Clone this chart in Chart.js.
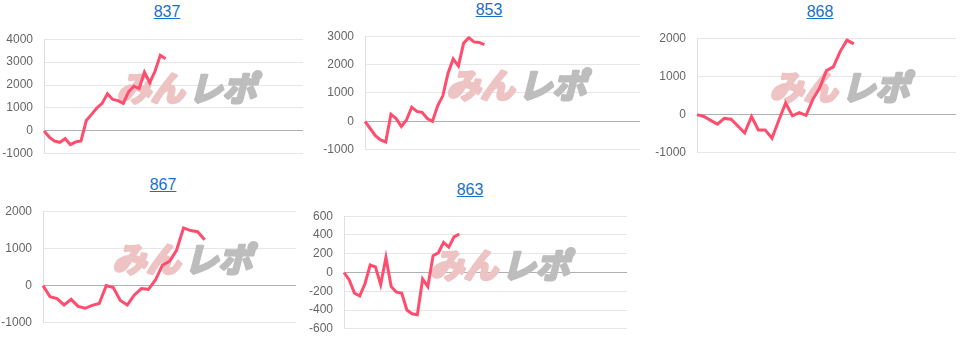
<!DOCTYPE html>
<html>
<head>
<meta charset="utf-8">
<script src="https://cdn.jsdelivr.net/npm/chart.js@4"></script>
<style>
  body { margin: 0; background: #fff; width: 967px; height: 345px; position: relative; overflow: hidden; font-family: "Liberation Sans", Arial, sans-serif; }
  .box { position: absolute; }
  .ttl { position: absolute; transform: translateX(-50%); font-size: 16px; color: #1a6fc9; text-decoration: underline; line-height: 18px; }
</style>
</head>
<body>
<script>
// chart names
const titles = ['837', '853', '868', '867', '863'];

// number of x slots on each chart
const xCounts = [50, 54, 39, 37, 55];

// series values
const s837 = [0, -270, -450, -500, -330, -600, -480, -440, 450, 720, 1000, 1200, 1620, 1370, 1320, 1200, 1700, 1950, 1850, 2560, 2100, 2600, 3300, 3150];
const s853 = [0, -250, -500, -650, -720, 250, 100, -180, 50, 500, 350, 320, 100, 0, 550, 900, 1700, 2200, 1950, 2750, 2950, 2800, 2780, 2700];
const s868 = [0, -50, -150, -250, -100, -120, -300, -480, -50, -400, -400, -620, -150, 300, -30, 50, -20, 400, 700, 1150, 1250, 1650, 1950, 1850];
const s867 = [0, -300, -350, -520, -370, -560, -610, -530, -480, 0, -50, -400, -520, -250, -80, -100, 150, 550, 650, 950, 1550, 1480, 1450, 1230];
const s863 = [0, -80, -220, -250, -120, 80, 60, -130, 160, -150, -210, -220, -400, -440, -450, -70, -150, 180, 210, 320, 270, 380, 410];

// y tick ranges [min, max, step]
const yRanges = [[-1000, 4000, 1000], [-1000, 3000, 1000], [-1000, 2000, 1000], [-1000, 2000, 1000], [-600, 600, 200]];

const seriesList = [s837, s853, s868, s867, s863];

// plot areas in page pixels: left, top, right, bottom ; title position
const boxes = [
  { l: 44, t: 31, r: 303, b: 162, tx: 167, ty: 3 },
  { l: 365, t: 28, r: 640, b: 158, tx: 489, ty: 1 },
  { l: 697, t: 30, r: 956, b: 161, tx: 820, ty: 3 },
  { l: 43, t: 203, r: 296, b: 331, tx: 163, ty: 176 },
  { l: 344, t: 208, r: 627, b: 337, tx: 470, ty: 181 }
];

const AXW = 44, PAD = 10;

// the faint site logo behind each line
const watermark = {
  id: 'watermark',
  beforeDatasetsDraw(chart) {
    const a = chart.chartArea;
    const c = chart.ctx;
    const cx = (a.left + a.right) / 2 + (a.right - a.left) * 0.05;
    const cy = a.top + (a.bottom - a.top) * 0.43;
    c.save();
    c.font = 'italic bold 34px "Noto Sans CJK JP"';
    c.textBaseline = 'middle';
    c.lineJoin = 'round';
    c.lineWidth = 3;
    const w1 = c.measureText('みん').width;
    const w2 = c.measureText('レポ').width;
    const x = cx - (w1 + w2 + 4) / 2;
    c.fillStyle = c.strokeStyle = '#eec3c3';
    c.strokeText('みん', x, cy);
    c.fillText('みん', x, cy);
    c.fillStyle = c.strokeStyle = '#bdbdbd';
    c.strokeText('レポ', x + w1 + 4, cy);
    c.fillText('レポ', x + w1 + 4, cy);
    c.restore();
  }
};

seriesList.forEach((data, i) => {
  const b = boxes[i];
  const w = AXW + (b.r - b.l) + 4;
  const h = PAD + (b.b - b.t) + PAD;

  const t = document.createElement('a');
  t.className = 'ttl';
  t.textContent = titles[i];
  t.style.left = b.tx + 'px';
  t.style.top = b.ty + 'px';
  document.body.appendChild(t);

  const div = document.createElement('div');
  div.className = 'box';
  div.style.left = (b.l - AXW) + 'px';
  div.style.top = (b.t - PAD) + 'px';
  div.style.width = w + 'px';
  div.style.height = h + 'px';
  const cv = document.createElement('canvas');
  div.appendChild(cv);
  document.body.appendChild(div);

  const labels = [];
  for (let k = 1; k <= xCounts[i]; k++) labels.push(String(k));
  const yr = yRanges[i];

  new Chart(cv.getContext('2d'), {
    type: 'line',
    data: {
      labels: labels,
      datasets: [{
        label: titles[i],
        data: data,
        borderColor: '#ff4d6d',
        borderWidth: 3,
        pointRadius: 0,
        tension: 0,
        fill: false
      }]
    },
    options: {
      responsive: true,
      maintainAspectRatio: false,
      animation: false,
      layout: { padding: { left: 0, right: 4, top: PAD, bottom: PAD } },
      plugins: { legend: { display: false }, tooltip: { enabled: false } },
      scales: {
        x: { display: false, offset: false },
        y: {
          min: yr[0], max: yr[1],
          afterFit(scale) { scale.width = AXW; },
          border: { color: '#e0e0e0', width: 1 },
          grid: {
            drawTicks: false,
            color: ctx => ctx.tick && ctx.tick.value === 0 ? '#b0b0b0' : '#e6e6e6'
          },
          ticks: {
            stepSize: yr[2],
            padding: 11,
            color: '#666',
            font: { family: '"Liberation Sans", Arial, sans-serif', size: 12 },
            callback: v => String(v)
          }
        }
      }
    },
    plugins: [watermark]
  });
});
</script>
</body>
</html>
